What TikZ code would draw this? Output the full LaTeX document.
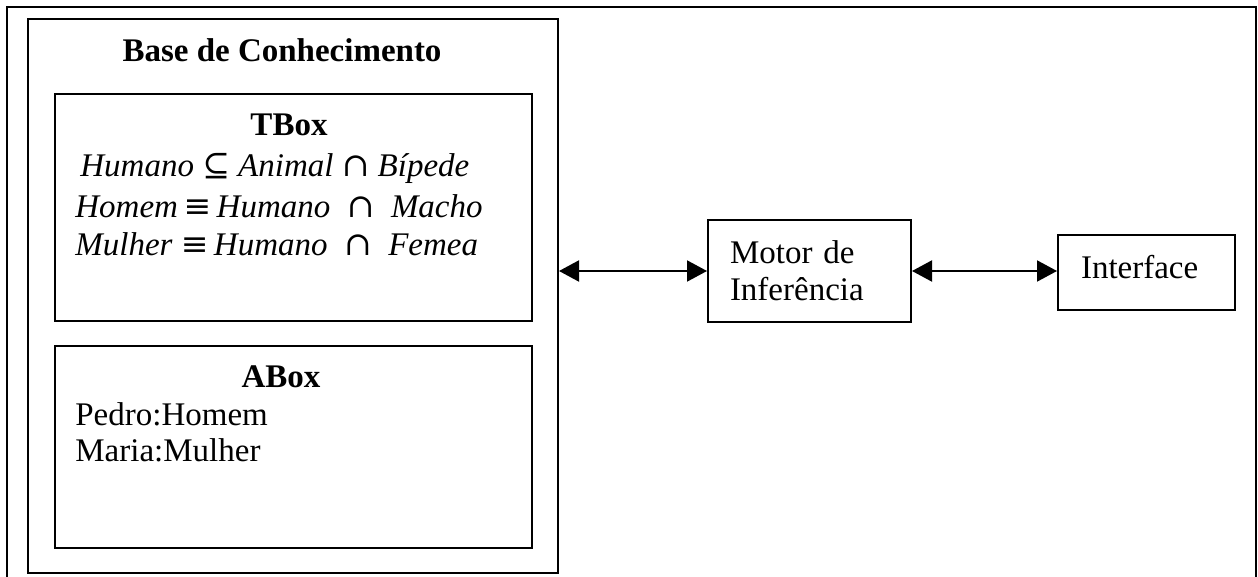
\documentclass[tikz,border=0pt]{standalone}
\usepackage{fontspec}
\setmainfont{Liberation Serif}
\newfontfamily\symfont{DejaVu Serif}
\usetikzlibrary{arrows.meta}
\newcommand{\ssub}{{\symfont\upshape ⊆}}
\newcommand{\sequ}{{\symfont\upshape ≡}}
\newcommand{\scap}{{\symfont\upshape ∩}}
\tikzset{
  box/.style={draw, line width=1pt, rectangle, inner sep=0pt},
  txt/.style={font=\fontsize{16.5}{18.5}\selectfont, inner sep=0pt},
  bold/.style={font=\fontsize{16.5}{18.5}\selectfont\bfseries, inner sep=0pt},
  link/.style={line width=1pt, {Triangle[length=10pt,width=10.5pt]}-{Triangle[length=10pt,width=10.5pt]}}
}
\begin{document}
\begin{tikzpicture}[x=0.5pt,y=-0.5pt]
\useasboundingbox (0,0) rectangle (1258,577);
\draw[line width=1pt] (7,577) -- (7,7) -- (1256,7) -- (1256,577);
% base de conhecimento
\node[box, minimum width=265pt, minimum height=277pt] (base) at (293,296) {};
\node[bold, anchor=base] (basetitle) at (282,62) {Base de Conhecimento};
\begin{scope}
\node[box, minimum width=238.5pt, minimum height=113.5pt] (tbox) at (293.5,207.5) {};
\node[bold, anchor=base] (tboxtitle) at (289,136) {TBox};
\node[txt, anchor=base west] (ax1) at (80,177) {\itshape Humano \ssub{} Animal \scap{} Bípede};
\node[txt, anchor=base west] (ax2) at (75,218) {\itshape Homem\,\sequ\,Humano ~\scap~ Macho};
\node[txt, anchor=base west] (ax3) at (75,256) {\itshape Mulher \sequ\,Humano ~\scap~ Femea};
\end{scope}
\begin{scope}
\node[box, minimum width=238.5pt, minimum height=101pt] (abox) at (293.5,447) {};
\node[bold, anchor=base] (aboxtitle) at (281,387) {ABox};
\foreach \n/\y/\t in {pedro/425/Pedro:Homem, maria/461/Maria:Mulher}
  \node[txt, anchor=base west] (\n) at (75,\y) {\t};
\end{scope}
% motor e interface
\node[box, txt, inner xsep=11pt, text width=79.5pt, align=left, minimum height=51pt] (motor) at (809.5,271) {Motor de\\Inferência};
\node[box, txt, inner xsep=11.5pt, text width=65.5pt, align=left, text depth=5.8pt, minimum height=37.5pt] (interface) at (1146.5,272.5) {Interface};
\draw[link] (motor.west -| base.east) -- (motor.west);
\draw[link] (motor.east) -- (motor.east -| interface.west);
\end{tikzpicture}
\end{document}
